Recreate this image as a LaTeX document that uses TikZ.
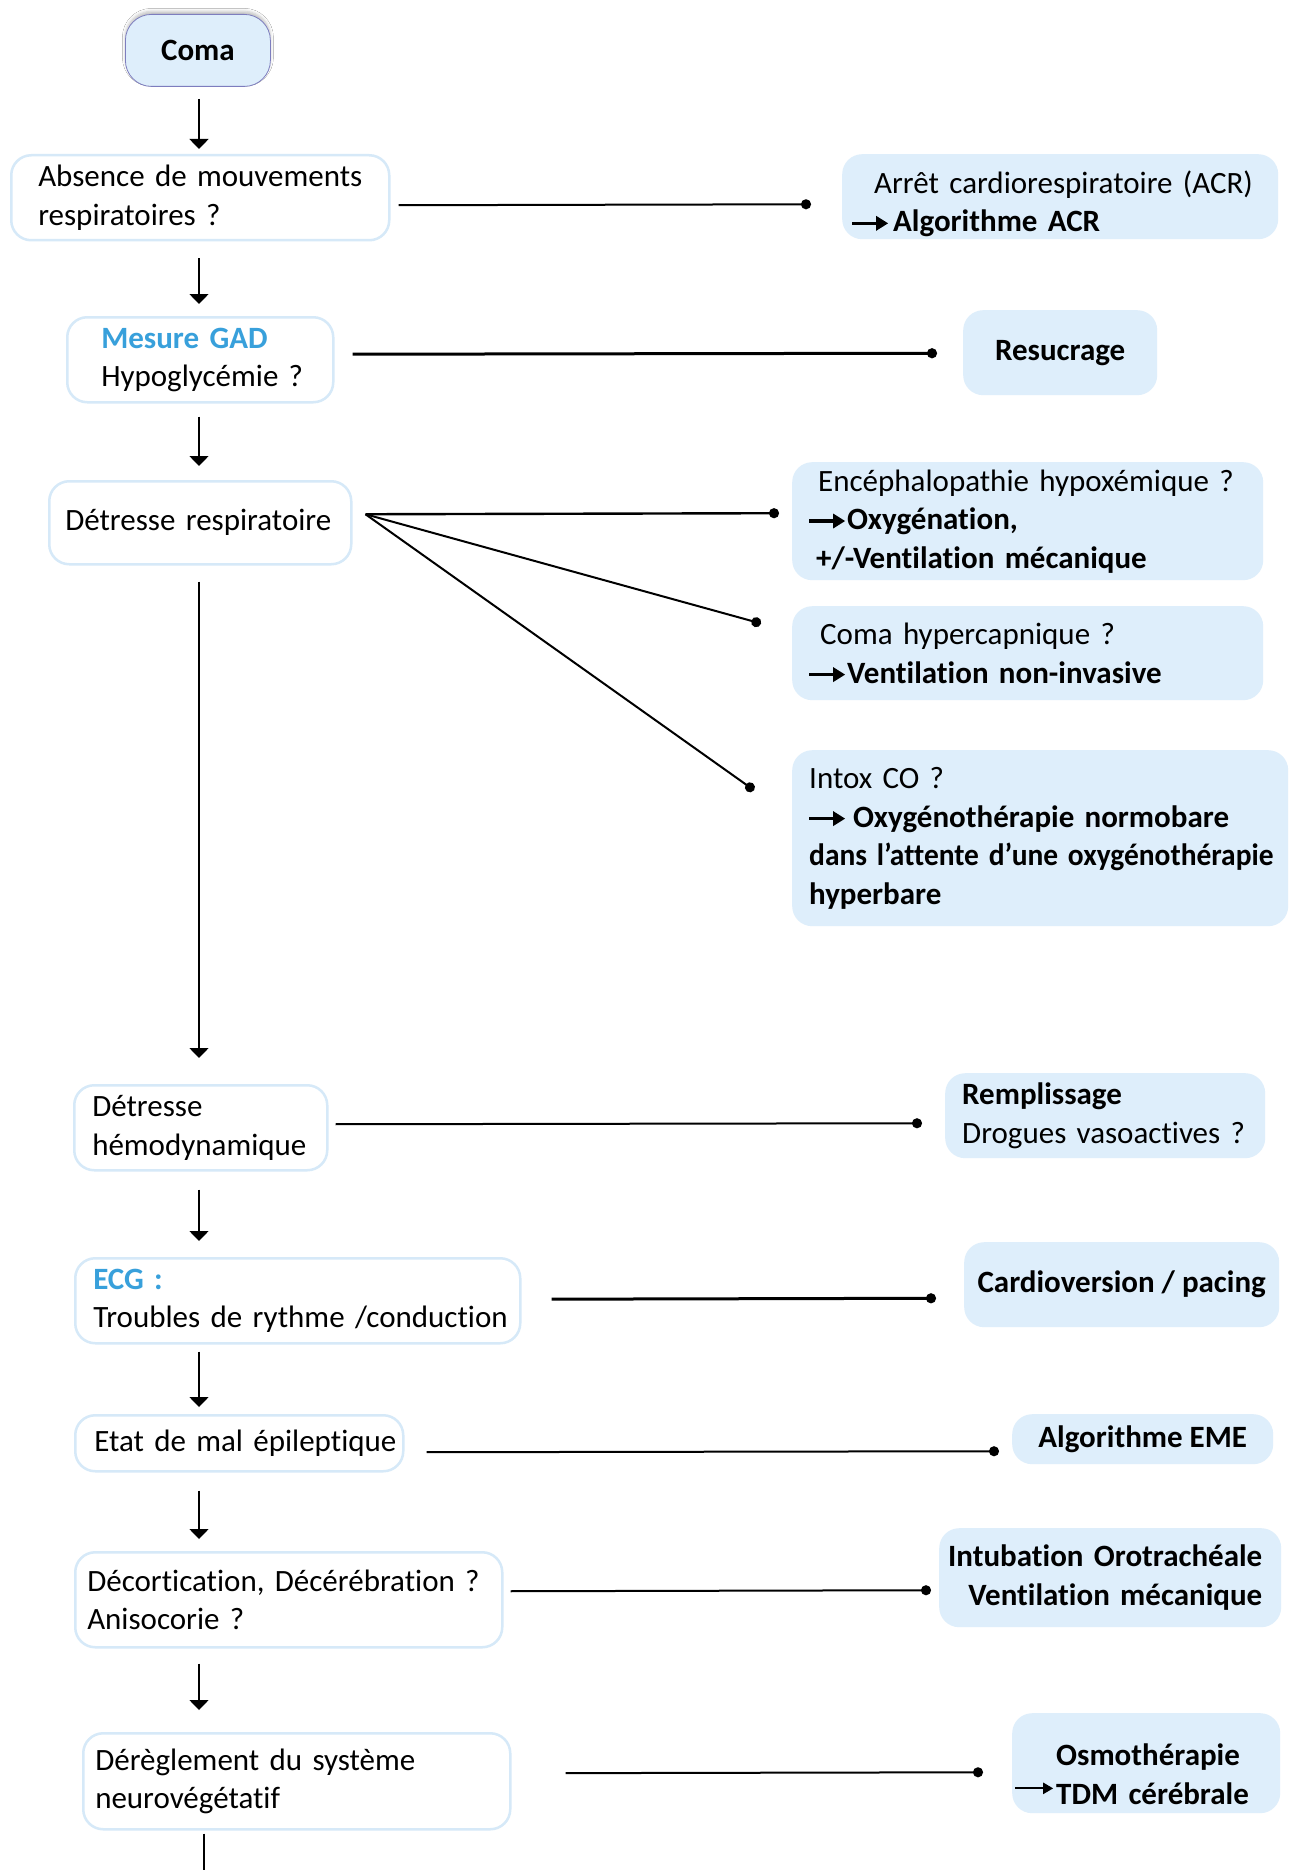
\documentclass[tikz,border=0pt]{standalone}
\usepackage{fontspec}
\setmainfont{Carlito}[Ligatures=NoCommon]
\usetikzlibrary{arrows.meta,shadows.blur,calc}

\definecolor{boxfill}{RGB}{222,238,251}
\definecolor{boxline}{RGB}{214,233,248}
\definecolor{gadblue}{RGB}{56,160,219}
\definecolor{comaline}{RGB}{125,125,190}

% heavy inline arrow used in front of the bold recommendations
\newcommand{\boldarrow}{\tikz[baseline=0pt]{%
  \path[use as bounding box] (0pt,0pt) rectangle (36pt,18pt);%
  \draw[draw=black, fill=none, line width=3.4pt, -{Triangle[length=12pt,width=14pt]}] (0pt,8.5pt) -- (36pt,8.5pt);}}
% lighter inline arrow
\newcommand{\thinarrow}{\tikz[baseline=0pt]{%
  \path[use as bounding box] (0pt,0pt) rectangle (38pt,18pt);%
  \draw[draw=black, fill=none, line width=2.2pt, -{Triangle[length=10pt,width=11pt]}] (0pt,16pt) -- (38pt,16pt);}}

\begin{document}
\begin{tikzpicture}[x=1pt, y=-1pt,
  base/.style={rounded corners=20pt, font=\fontsize{31}{38.5}\selectfont, inner ysep=0pt, anchor=north west},
  lbox/.style={base, draw=boxline, line width=2.5pt, fill=white, align=left},
  rbox/.style={base, fill=boxfill},
  comabox/.style={base, rounded corners=26pt, draw=comaline, line width=0.8pt, fill=boxfill,
    blur shadow={shadow xshift=0pt, shadow yshift=3pt, shadow opacity=25, shadow blur radius=3pt}},
  flow/.style={line width=1.6pt, -{Triangle[length=10pt,width=19pt]}},
  link/.style={line width=2pt, -{Circle[length=10pt]}},
  heavylink/.style={line width=3pt, -{Circle[length=10pt]}},
]
\fill[white] (0,0) rectangle (1292,1870);
\useasboundingbox (0,0) rectangle (1292,1870);

% ---- main column ----
\node[comabox, minimum width=145pt, minimum height=72pt] (coma) at (125,14) {\textbf{Coma}};

\node[lbox, text width=324pt, inner xsep=27pt, minimum height=85pt] (absence) at (10,154)
  {\mbox{Absence de mouvements}\\respiratoires ?};

\node[lbox, text width=198pt, inner xsep=34pt, minimum height=85pt] (gad) at (66,316)
  {\textcolor{gadblue}{\textbf{Mesure GAD}}\\\mbox{Hypoglycémie ?}};

\node[lbox, text width=270pt, inner xsep=16pt, minimum height=83pt] (resp) at (48,480)
  {\mbox{Détresse respiratoire}};

\node[lbox, text width=217pt, inner xsep=18pt, minimum height=85pt] (hemo) at (73,1084)
  {Détresse\\\mbox{hémodynamique}};

\node[lbox, text width=409pt, inner xsep=18pt, minimum height=85pt] (ecg) at (74,1257)
  {\textcolor{gadblue}{\textbf{ECG :}}\\\mbox{Troubles de rythme /conduction}};

\node[lbox, text width=290pt, inner xsep=19pt, minimum height=56pt] (eme) at (74,1414)
  {\mbox{Etat de mal épileptique}};

\node[lbox, text width=403pt, inner xsep=12pt, minimum height=95pt] (decort) at (74,1551)
  {\mbox{Décortication, Décérébration ?}\\Anisocorie ?};

\node[lbox, text width=403pt, inner xsep=12pt, minimum height=96pt] (dereg) at (82,1732)
  {\mbox{Dérèglement du système}\\neurovégétatif};

% ---- treatment boxes ----
\node[rbox, text width=416pt, inner xsep=10pt, minimum height=85pt, align=left, text height=37pt] (acr) at (842,154)
  {\hspace*{22pt}\mbox{Arrêt cardiorespiratoire (ACR)}\\\boldarrow\hspace{5pt}\textbf{Algorithme ACR}};

\node[rbox, minimum width=194pt, minimum height=85pt] (resuc) at (963,310) {\textbf{Resucrage}};

\node[rbox, text width=437pt, inner xsep=17pt, minimum height=118pt, align=left] (enc) at (792,462)
  {\hspace*{9pt}\mbox{Encéphalopathie hypoxémique ?}\\\boldarrow\hspace{2pt}\textbf{Oxygénation,}\\\hspace*{7pt}\mbox{\textbf{+/-Ventilation mécanique}}};

\node[rbox, text width=437pt, inner xsep=17pt, minimum height=94pt, align=left] (hyper) at (792,606)
  {\hspace*{11pt}Coma hypercapnique ?\\\boldarrow\hspace{2pt}\mbox{\textbf{Ventilation non-invasive}}};

\node[rbox, text width=462pt, inner xsep=17pt, minimum height=176pt, align=left] (intox) at (792,750)
  {Intox CO ?\\\boldarrow\hspace{8pt}\mbox{\textbf{Oxygénothérapie normobare}}\\\scalebox{0.95}[1]{\textbf{dans l’attente d’une oxygénothérapie}}\\\textbf{hyperbare}};

\node[rbox, text width=286pt, inner xsep=17pt, minimum height=85pt, align=left] (rempl) at (945,1073)
  {\textbf{Remplissage}\\\mbox{Drogues vasoactives ?}};

\node[rbox, minimum width=315pt, minimum height=85pt] (cardio) at (964,1242) {\textbf{Cardioversion / pacing}};

\node[rbox, minimum width=261pt, minimum height=50pt] (algoeme) at (1012,1414) {\textbf{Algorithme EME}};

\node[rbox, text width=342pt, inner xsep=0pt, minimum height=99pt, align=right] (intub) at (939,1528)
  {\mbox{\textbf{Intubation Orotrachéale}\hspace{19pt}}\\\mbox{\textbf{Ventilation mécanique}\hspace{19pt}}};

\node[rbox, text width=262pt, inner xsep=3pt, minimum height=100pt, align=left, text height=44pt] (osmo) at (1012,1713)
  {\hspace*{41pt}\textbf{Osmothérapie}\\\thinarrow\hspace{3pt}\mbox{\textbf{TDM cérébrale}}};

% ---- vertical flow ----
\coordinate (col) at (199,0);
\coordinate (tail) at (204,0);
\draw[flow, shorten <=12pt, shorten >=5pt]  (col |- coma.south)   -- (col |- absence.north);
\draw[flow, shorten <=17pt, shorten >=12pt] (col |- absence.south) -- (col |- gad.north);
\draw[flow, shorten <=13pt, shorten >=14pt] (col |- gad.south)     -- (col |- resp.north);
\draw[flow, shorten <=16pt, shorten >=26pt] (col |- resp.south)    -- (col |- hemo.north);
\draw[flow, shorten <=18pt, shorten >=16pt] (col |- hemo.south)    -- (col |- ecg.north);
\draw[flow, shorten <=7pt,  shorten >=7pt]  (col |- ecg.south)     -- (col |- eme.north);
\draw[flow, shorten <=18pt, shorten >=12pt] (col |- eme.south)     -- (col |- decort.north);
\draw[flow, shorten <=15pt, shorten >=22pt] (col |- decort.south)  -- (col |- dereg.north);
\draw[line width=2.4pt, shorten <=3pt] (tail |- dereg.south) -- (204,1872);

% ---- links to treatments ----
\draw[link, shorten <=8pt, shorten >=31pt] ([yshift=-7.5pt]absence.east) -- ([yshift=-7.5pt]acr.west);
\draw[heavylink, shorten <=18pt, shorten >=26pt] ([yshift=5.5pt]gad.east) -- ([yshift=-0.5pt]resuc.west);

\coordinate (fan) at ([xshift=13pt, yshift=8.5pt]resp.east);
\coordinate (f1) at ([xshift=-13pt, yshift=8pt]enc.west);
\coordinate (f2) at ([xshift=-31pt, yshift=29.7pt]hyper.west);
\coordinate (f3) at ([xshift=-38pt, yshift=48pt]intox.west);
\draw[link, line width=2.4pt] (fan) -- (f1);
\draw[link] (fan) -- (f2);
\draw[link] (fan) -- (f3);

\draw[link, shorten <=7pt, shorten >=23pt] ([yshift=3.5pt]hemo.east) -- ([yshift=-7.5pt]rempl.west);
\draw[heavylink, shorten <=30pt, shorten >=28pt] ([yshift=1.5pt]ecg.east) -- ([yshift=-13.5pt]cardio.west);
\draw[link, shorten <=22pt, shorten >=13pt] ([yshift=-9pt]eme.east) -- ([yshift=-12pt]algoeme.west);
\draw[link, shorten <=7pt, shorten >=8pt] ([yshift=8.5pt]decort.east) -- ([yshift=-12.5pt]intub.west);
\draw[link, shorten <=54pt, shorten >=29pt] ([yshift=8pt]dereg.east) -- ([yshift=-9pt]osmo.west);
\end{tikzpicture}
\end{document}
